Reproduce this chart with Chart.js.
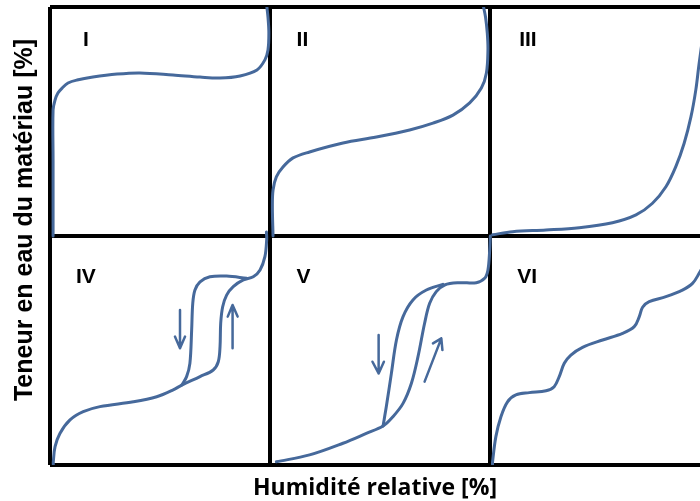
<!DOCTYPE html>
<html><head><meta charset="utf-8">
<script src="https://cdn.jsdelivr.net/npm/chart.js@4.4.1/dist/chart.umd.min.js"></script>
<style>html,body{margin:0;padding:0;background:#fff}#wrap{position:relative;width:700px;height:501px}</style>
</head><body><div id="wrap"><canvas id="c"></canvas></div>
<script>
// Text
const panelLabels = ['I', 'II', 'III', 'IV', 'V', 'VI'];
const xTitle = 'Humidité relative [%]';
const yTitle = 'Teneur en eau du matériau [%]';

// Curves, in each panel's own units: [relative humidity %, water content %]
const typeI = [[1.4,0],[1.4,33],[1.4,55],[2.3,59.4],[3.6,62.4],[5.5,64.6],[8.2,66.8],[12.3,68.1],[19.5,69.4],[30.5,70.7],[40.9,71.2],[55.9,70.3],[68.2,69.4],[77.3,69],[86.4,69.9],[94.1,72.5],[97.7,76.9],[99.1,81.2],[99.5,88.6],[99.1,95.6],[98.6,100]];
const typeII = [[1.4,0],[1.1,12.7],[1.4,20.1],[2.9,25.8],[5.9,30.1],[10.5,34.1],[18,36.7],[33.2,40.6],[48.4,43.2],[63.5,46.3],[74.1,49.3],[83.2,52.8],[90.8,58.1],[96.1,64.6],[98.4,71.2],[99.1,81.2],[98.8,88.6],[98,95.6],[97.1,100]];
const typeIII = [[1.2,0.5],[10.3,1.9],[25.5,2.6],[40.6,3.6],[55.7,5.8],[66.4,9.2],[73.9,14.3],[80,21.5],[84.5,30.3],[88.3,40.5],[91.4,52.1],[93.6,63.8],[95.1,75.4],[96.9,87.8]];
const typeIVads = [[1.5,0],[1.5,1.4],[2.3,8],[4.5,13.8],[9.1,19.7],[15.1,23.3],[22.7,25.5],[37.9,27.6],[48.5,29.8],[56,32.8],[59.9,34.9],[68.2,38.6],[74.2,41.5],[76.5,45.1],[77.3,51.7],[77.6,61.9],[78.5,69.1],[80.3,74.2],[83.3,77.9],[87.9,80.8],[92.4,82.2],[95.5,85.2],[97.7,91],[98.5,98.3],[98.4,101.7]];
const typeIVdes = [[59.9,34.9],[62.1,38.6],[63.6,44.4],[64.4,59],[64.9,70.6],[65.9,76.4],[68.2,80],[72.7,82.2],[80.3,82.5],[89.4,81.5]];
const typeVads = [[2.9,1.4],[18,4.4],[33.2,9.5],[43.8,13.8],[51.4,17],[55.9,21.1],[60.5,26.9],[64.3,35.7],[67.3,47.3],[70.3,61.9],[72.6,70.6],[75.6,75.7],[79.4,78.6],[86.2,79.6],[93.8,79.6],[97.6,81.5],[99.1,85.2],[99.9,93.9],[100.2,100]];
const typeVdes = [[51.4,17],[52.9,25.5],[55.2,40],[57.5,54.6],[60.5,64.8],[65,72.1],[71.1,76.4],[78.6,78.9]];
const typeVI = [[1.2,0],[1.2,1.4],[2.7,12.4],[5,21.1],[8,27.6],[11.8,30.6],[17.9,31.6],[25.5,32.4],[29.2,34.2],[31.5,38.6],[33.8,44.4],[36.8,48],[42.1,51.4],[51.2,54.6],[60.3,57.5],[65.6,60.4],[67.9,64.8],[69.4,68.9],[72.4,71.3],[80,73.5],[87.5,76.4],[92.1,79.3],[95.1,83.7],[97.9,88.6]];

// Arrows: shaft start, tip, head left, tip, head right
const arrowIVdown = [[59.1,67.7],[59.1,51],[56.8,56.1],[59.1,51],[61.4,56.1]];
const arrowIVup = [[83,51],[83,69.9],[80.8,64.8],[83,69.9],[85.3,64.8]];
const arrowVdown = [[49.4,56.8],[49.4,40],[46.6,45.1],[49.4,40],[51.8,45.1]];
const arrowVup = [[70.3,36.4],[77.9,55.3],[74.1,53.1],[77.9,55.3],[78.4,50.2]];

// Panel grid
const panelCol = [0, 1, 2, 0, 1, 2];
const panelRow = [0, 0, 0, 1, 1, 1];
const panelCurves = [[typeI], [typeII], [typeIII], [typeIVads, typeIVdes], [typeVads, typeVdes], [typeVI]];
const panelArrows = [[], [], [], [arrowIVdown, arrowIVup], [arrowVdown, arrowVup], []];
const labelPos = [[15,85.6],[12.1,85.6],[13.3,85.6],[11.8,82.1],[12.1,82.1],[12.4,82.1]];

const blue = '#46699b';
const toG = (p, i) => ({ x: panelCol[i] * 100 + p[0], y: (1 - panelRow[i]) * 100 + p[1] });

const datasets = [];
panelCurves.forEach((curves, i) => curves.forEach(c => datasets.push({
  data: c.map(p => toG(p, i)), showLine: true, borderColor: blue, borderWidth: 3,
  pointRadius: 0, tension: 0.35, fill: false, borderJoinStyle: 'round', borderCapStyle: 'round'
})));
panelArrows.forEach((arrows, i) => arrows.forEach(a => datasets.push({
  data: a.map(p => toG(p, i)), showLine: true, borderColor: blue, borderWidth: 2.5,
  pointRadius: 0, tension: 0, fill: false, borderJoinStyle: 'round', borderCapStyle: 'round'
})));

const textPlugin = {
  id: 'texts',
  afterDraw(chart) {
    const ctx = chart.ctx, xs = chart.scales.x, ys = chart.scales.y, ca = chart.chartArea;
    ctx.save();
    ctx.fillStyle = '#000';
    ctx.font = 'bold 21px "Liberation Sans", Arial, sans-serif';
    ctx.textAlign = 'left'; ctx.textBaseline = 'middle';
    panelLabels.forEach((t, i) => {
      const g = toG(labelPos[i], i);
      ctx.fillText(t, xs.getPixelForValue(g.x), ys.getPixelForValue(g.y));
    });
    ctx.font = 'bold 23px "Open Sans", sans-serif';
    ctx.textAlign = 'center'; ctx.textBaseline = 'alphabetic';
    ctx.fillText(xTitle, (ca.left + ca.right) / 2, ca.bottom + 30);
    ctx.translate(25, 220);
    ctx.rotate(-Math.PI / 2);
    ctx.font = 'bold 25px "Liberation Sans", Arial, sans-serif';
    ctx.textBaseline = 'middle';
    ctx.fillText(yTitle, 0, 0);
    ctx.restore();
  }
};

const gridScale = (max) => ({
  type: 'linear', min: 0, max: max,
  afterBuildTicks: s => { s.ticks = [0, 100, 200].map(v => ({ value: v })); },
  grid: { color: '#000', lineWidth: 4, drawTicks: false },
  border: { display: false },
  ticks: { display: false }
});

new Chart(document.getElementById('c'), {
  type: 'scatter',
  data: { datasets },
  options: {
    responsive: true, maintainAspectRatio: false, animation: false, events: [],
    layout: { padding: { left: 50, right: 0, top: 7, bottom: 36 }, autoPadding: false },
    plugins: { legend: { display: false }, tooltip: { enabled: false } },
    scales: { x: gridScale(295.5), y: gridScale(200) }
  },
  plugins: [textPlugin]
});
</script></body></html>
